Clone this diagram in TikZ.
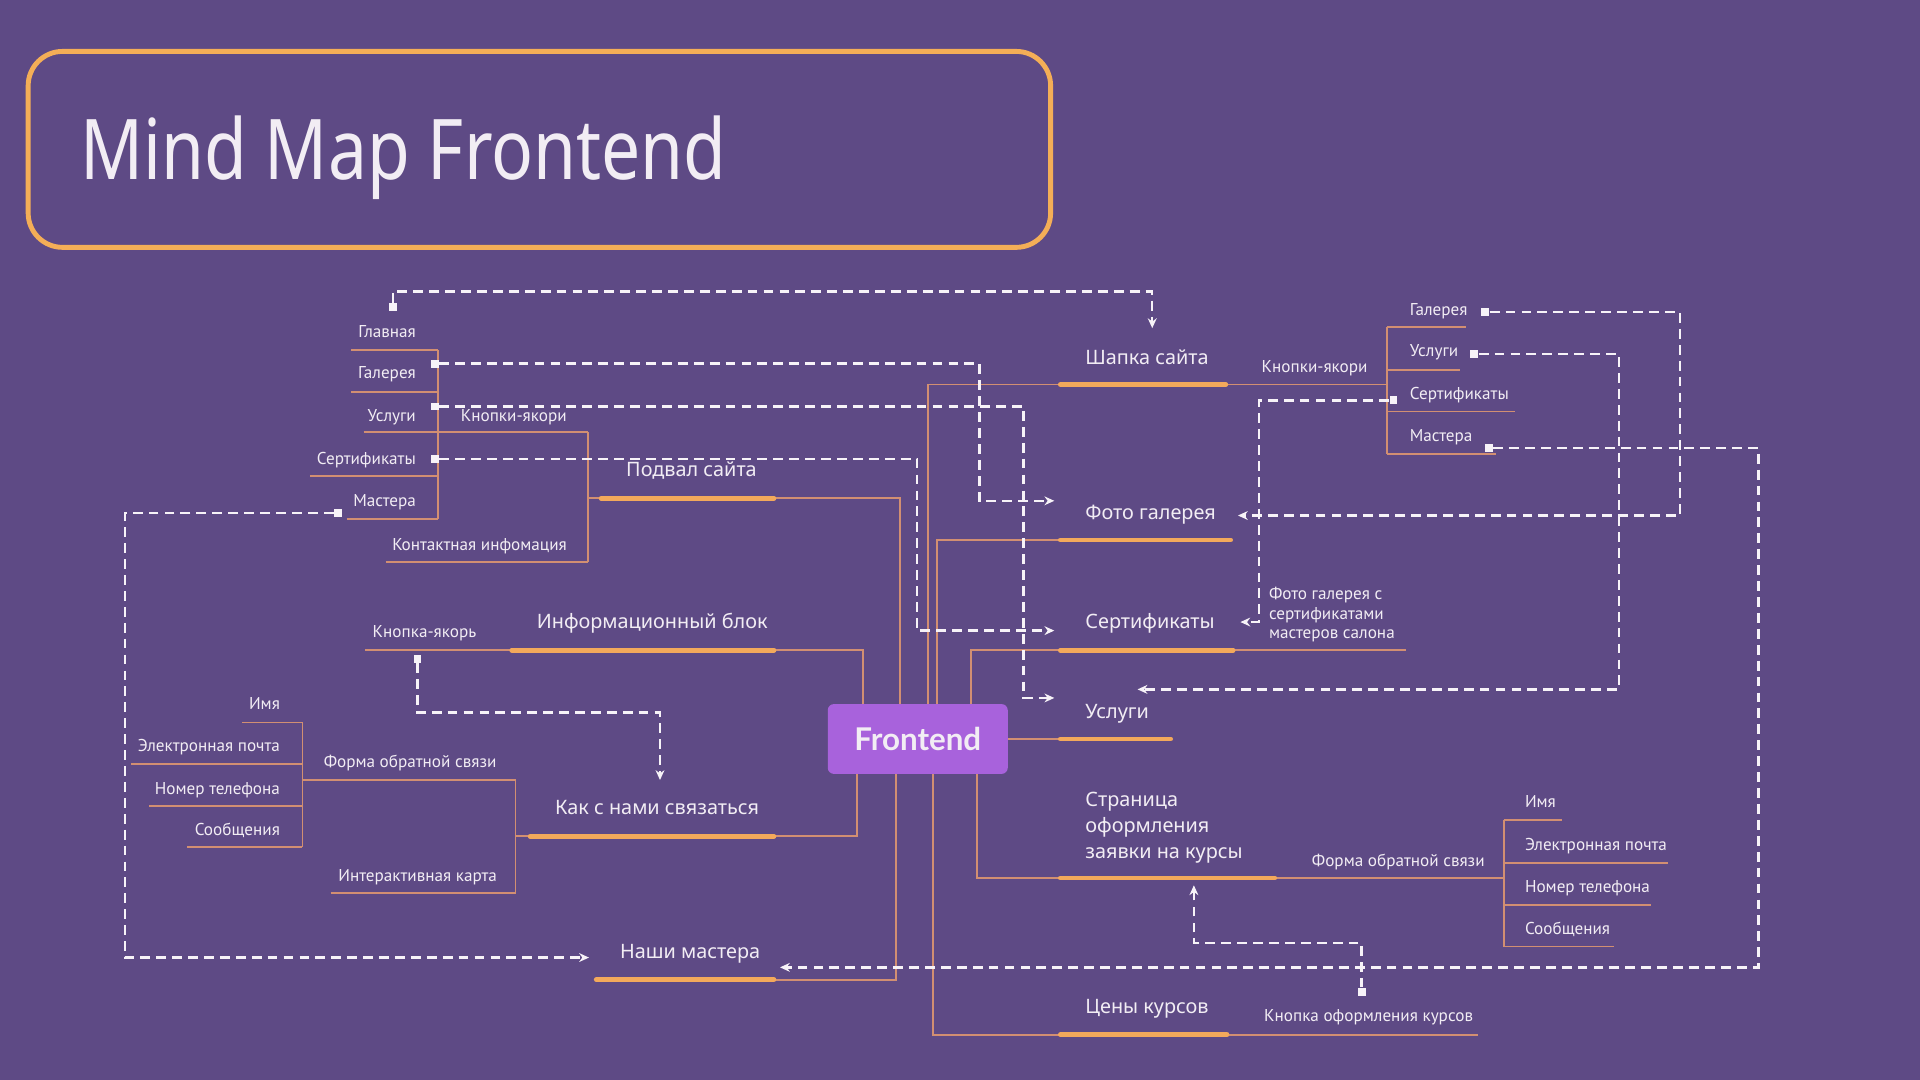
\documentclass[tikz,border=0pt]{standalone}
\usepackage{fontspec}
\usepackage{graphicx}
\usetikzlibrary{arrows.meta,calc}
\newfontfamily\labfont{PT Sans}
\newfontfamily\bigfont{Noto Sans}
\newfontfamily\ttlfont{Noto Sans}
\newfontfamily\fefont{Lato}
\definecolor{bgc}{HTML}{5E4A85}
\definecolor{orng}{HTML}{F3A95B}
\definecolor{ttlc}{HTML}{F4AE57}
\definecolor{thinc}{HTML}{D28F72}
\definecolor{fec}{HTML}{A862DC}
\definecolor{txt}{HTML}{F2EDF4}
\definecolor{dashc}{HTML}{F7F3F8}
\begin{document}
\begin{tikzpicture}[x=0.5pt,y=-0.5pt,
  thickln/.style={draw=orng, line width=2pt, line cap=round},
  thinln/.style={draw=thinc, line width=0.75pt},
  dashln/.style={draw=dashc, line width=1pt, dash pattern=on 4pt off 2.5pt, -{Stealth[length=4pt,width=3.6pt]}},
  sqr/.style={fill=dashc, inner sep=0pt, minimum size=3.2pt},
  lab/.style={text=txt, inner sep=0pt, font=\labfont\fontsize{7}{8.5}\selectfont, text height=5pt, text depth=1.5pt},
  labml/.style={text=txt, inner sep=0pt, font=\labfont\fontsize{7}{8}\selectfont, align=left},
  big/.style={text=txt, inner sep=0pt, font=\bigfont\fontsize{8.1}{10.5}\selectfont, text height=6.1pt, text depth=1.7pt},
  bigml/.style={text=txt, inner sep=0pt, font=\bigfont\fontsize{8.1}{10.5}\selectfont, align=left}
]
\useasboundingbox (0,0) rectangle (1568,882);
\fill[bgc] (0,0) rectangle (1568,882);

% title
\node[draw=ttlc, line width=2pt, rounded corners=14pt, minimum width=417.5pt, minimum height=80pt, inner sep=0pt] (titlebox) at (440.5,122) {};
\node[anchor=base west, inner sep=0pt, text=txt] (title) at (65,147) {\resizebox{264pt}{26pt}{\ttlfont Mind Map Frontend}};

% central node
\node[fill=fec, rounded corners=2.5pt, minimum width=73.5pt, minimum height=28.5pt, inner sep=0pt, text=txt, font=\fefont\bfseries\fontsize{12.8}{14}\selectfont] (fe) at (749.5,603.5) {Frontend};

% ---------- coordinates of main branch lines
\coordinate (shA) at (866,314); \coordinate (shB) at (1001,314);
\coordinate (foA) at (866,441); \coordinate (foB) at (1005,441);
\coordinate (seA) at (866,531); \coordinate (seB) at (1007,531);
\coordinate (usA) at (866,603.5); \coordinate (usB) at (956,603.5);
\coordinate (stA) at (866,717); \coordinate (stB) at (1041,717);
\coordinate (ceA) at (866,845); \coordinate (ceB) at (1002,845);
\coordinate (poA) at (491,407); \coordinate (poB) at (632,407);
\coordinate (inA) at (418,531); \coordinate (inB) at (632,531);
\coordinate (kaA) at (433,683); \coordinate (kaB) at (632,683);
\coordinate (naA) at (487,800); \coordinate (naB) at (632,800);

% ---------- thin connectors to Frontend
\draw[thinln] (shA) -| ($(fe.north)+(8.5,0)$);
\draw[thinln] (foA) -| ($(fe.north)+(15.5,0)$);
\draw[thinln] (seA) -| ($(fe.north)+(43.5,0)$);
\draw[thinln] (fe.east) -- (usA);
\draw[thinln] (stA) -| ($(fe.south)+(48.5,0)$);
\draw[thinln] (ceA) -| ($(fe.south)+(12.5,0)$);
\draw[thinln] (poB) -| ($(fe.north)+(-14.5,0)$);
\draw[thinln] (inB) -| ($(fe.north)+(-44.5,0)$);
\draw[thinln] (kaB) -| ($(fe.south)+(-49.5,0)$);
\draw[thinln] (naB) -| ($(fe.south)+(-17.5,0)$);

% ---------- right: Шапка сайта
\node[big, anchor=west] (shT) at (886,293) {Шапка сайта};
\coordinate (rbk) at (1133,314);
\draw[thinln] (shB) -- (rbk);
\node[lab, anchor=west] (rkT) at (1030,301) {Кнопки-якори};
\draw[thinln] (1133,267) -- (1133,371);
\draw[thinln] (1133,267) -- (1197,267);
\draw[thinln] (1133,302) -- (1192,302);
\draw[thinln] (1133,336) -- (1237,336);
\draw[thinln] (1133,371) -- (1222,371);
\node[lab, anchor=west] (rG) at (1151,254) {Галерея};
\node[lab, anchor=west] (rU) at (1151,288) {Услуги};
\node[lab, anchor=west] (rS) at (1151,323) {Сертификаты};
\node[lab, anchor=west] (rM) at (1151,357) {Мастера};

% ---------- right: other branches
\node[big, anchor=west] (foT) at (886,420) {Фото галерея};
\node[big, anchor=west] (seT) at (886,509) {Сертификаты};
\coordinate (seC) at (1148,531);
\draw[thinln] (seB) -- (seC);
\node[labml, anchor=west] (seN) at (1036,502) {Фото галерея с\\сертификатами\\мастеров салона};
\node[big, anchor=west] (usT) at (886,582) {Услуги};
\node[bigml, anchor=west] (stT) at (886,676) {Страница\\оформления\\заявки на курсы};
\coordinate (stC) at (1228,717);
\draw[thinln] (stB) -- (stC);
\node[lab, anchor=west] (stF) at (1071,704) {Форма обратной связи};
\draw[thinln] (1228,670) -- (1228,773);
\draw[thinln] (1228,670) -- (1276,670);
\draw[thinln] (1228,705) -- (1362,705);
\draw[thinln] (1228,739) -- (1348,739);
\draw[thinln] (1228,773) -- (1318,773);
\node[lab, anchor=west] (sI) at (1245,656) {Имя};
\node[lab, anchor=west] (sE) at (1245,691) {Электронная почта};
\node[lab, anchor=west] (sN) at (1245,725) {Номер телефона};
\node[lab, anchor=west] (sC) at (1245,760) {Сообщения};
\node[big, anchor=west] (ceT) at (886,823) {Цены курсов};
\coordinate (ceC) at (1207,845);
\draw[thinln] (ceB) -- (ceC);
\node[lab, anchor=west] (ceK) at (1032,831) {Кнопка оформления курсов};

% ---------- left: Подвал сайта
\node[big, anchor=west] (poT) at (511,385) {Подвал сайта};
\draw[thinln] (poA) -- (480,407);
\draw[thinln] (480,353) -- (480,459);
\draw[thinln] (297,353) -- (480,353);
\draw[thinln] (315,459) -- (480,459);
\node[lab, anchor=west] (lkT) at (376,341) {Кнопки-якори};
\node[lab, anchor=west] (lcT) at (320,446) {Контактная инфомация};
\draw[thinln] (358,286) -- (358,424);
\draw[thinln] (287,286) -- (358,286);
\draw[thinln] (287,320) -- (358,320);
\draw[thinln] (253,389) -- (358,389);
\draw[thinln] (283,424) -- (358,424);
\node[lab, anchor=east] (lGl) at (340,272) {Главная};
\node[lab, anchor=east] (lG) at (340,306) {Галерея};
\node[lab, anchor=east] (lU) at (340,341) {Услуги};
\node[lab, anchor=east] (lS) at (340,376) {Сертификаты};
\node[lab, anchor=east] (lM) at (340,410) {Мастера};

% ---------- left: Информационный блок
\node[big, anchor=west] (inT) at (438,509) {Информационный блок};
\draw[thinln] (298,531) -- (inA);
\node[lab, anchor=west] (inK) at (304,517) {Кнопка-якорь};

% ---------- left: Как с нами связаться
\node[big, anchor=west] (kaT) at (453,661) {Как с нами связаться};
\draw[thinln] (kaA) -- (421,683);
\draw[thinln] (421,637) -- (421,729);
\draw[thinln] (247,637) -- (421,637);
\draw[thinln] (270,729) -- (421,729);
\node[lab, anchor=west] (kaF) at (264,623) {Форма обратной связи};
\node[lab, anchor=west] (kaM) at (276,716) {Интерактивная карта};
\draw[thinln] (247,590) -- (247,692);
\draw[thinln] (198,590) -- (247,590);
\draw[thinln] (107,624) -- (247,624);
\draw[thinln] (122,658) -- (247,658);
\draw[thinln] (153,692) -- (247,692);
\node[lab, anchor=east] (kI) at (229,576) {Имя};
\node[lab, anchor=east] (kE) at (229,610) {Электронная почта};
\node[lab, anchor=east] (kN) at (229,645) {Номер телефона};
\node[lab, anchor=east] (kC) at (229,679) {Сообщения};

% ---------- left: Наши мастера
\node[big, anchor=west] (naT) at (506,778) {Наши мастера};

% ---------- thick branch lines
\foreach \a/\b in {shA/shB,foA/foB,seA/seB,usA/usB,stA/stB,ceA/ceB,poA/poB,inA/inB,kaA/kaB,naA/naB}
  \draw[thickln] (\a) -- (\b);

% ---------- squares
\node[sqr] (sqGl) at (321,251) {};
\node[sqr] (sqLG) at (355,297) {};
\node[sqr] (sqLU) at (355,332) {};
\node[sqr] (sqLS) at (355,375) {};
\node[sqr] (sqLM) at (276,419) {};
\node[sqr] (sqKn) at (341,538) {};
\node[sqr] (sqRG) at (1213,255) {};
\node[sqr] (sqRU) at (1204,289) {};
\node[sqr] (sqRS) at (1138,327) {};
\node[sqr] (sqRM) at (1216,366) {};
\node[sqr] (sqKo) at (1112,810) {};

% ---------- arrow tips
\coordinate (tipSh) at (941,268);
\coordinate (tipFotoL) at (861,409);
\coordinate (tipUslL) at (861,570);
\coordinate (tipSertL) at (861,515);
\coordinate (tipMastL) at (481,782);
\coordinate (tipKak) at (539,637);
\coordinate (tipFotoR) at (1011,421);
\coordinate (tipUslR) at (929,563);
\coordinate (tipSertR) at (1013,508);
\coordinate (tipMastR) at (637,790);
\coordinate (tipStr) at (975,723);

% ---------- dashed links
\draw[dashln] (sqGl.north) |- (941,238) -- (tipSh);
\draw[dashln] (sqLG.east) -| (800,409) -- (tipFotoL);
\draw[dashln] (sqLU.east) -| (836,570) -- (tipUslL);
\draw[dashln] (sqLS.east) -| (749,515) -- (tipSertL);
\draw[dashln] (sqLM.west) -| (102,782) -- (tipMastL);
\draw[dashln] (sqKn.south) |- (539,582) -- (tipKak);
\draw[dashln] (sqRG.east) -| (1372,421) -- (tipFotoR);
\draw[dashln] (sqRU.east) -| (1322,563) -- (tipUslR);
\draw[dashln] (sqRS.west) -| (1028,508) -- (tipSertR);
\draw[dashln] (sqRM.east) -| (1436,790) -- (tipMastR);
\draw[dashln] (sqKo.north) |- (975,770) -- (tipStr);
\end{tikzpicture}
\end{document}
